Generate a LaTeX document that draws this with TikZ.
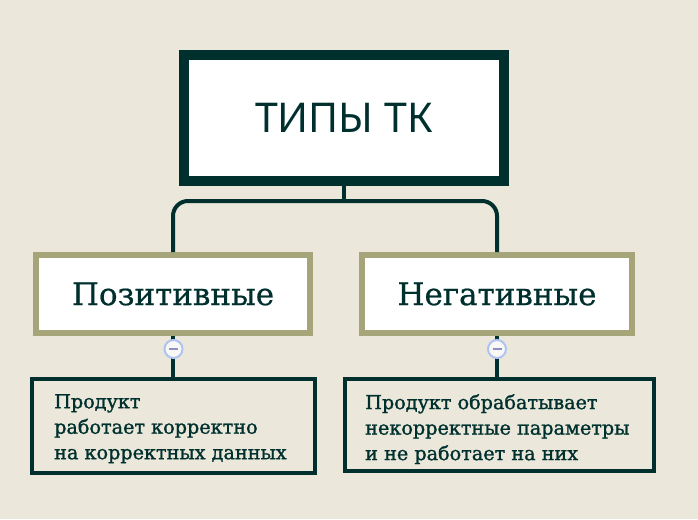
\documentclass[tikz,border=0pt]{standalone}
\usepackage{fontspec}
\setmainfont{DejaVu Serif}[FakeBold=0.6]
\newfontfamily\titlefont{Noto Sans}
\newfontfamily\notefont{DejaVu Serif}[FakeBold=1.3]
\definecolor{paper}{HTML}{EBE8DB}
\definecolor{ink}{HTML}{00302E}
\definecolor{olive}{HTML}{A6A57A}
\definecolor{foldring}{HTML}{AFC2F4}
\definecolor{folddash}{HTML}{8A90C8}
\tikzset{
  topbox/.style={draw=ink, line width=10pt, fill=white, minimum width=320pt,
    minimum height=126pt, font=\titlefont\fontsize{41}{46}\selectfont, text=ink},
  kindbox/.style={draw=olive, line width=6pt, fill=white, minimum height=78pt,
    font=\fontsize{31}{35}\selectfont, text=ink},
  detailbox/.style={draw=ink, line width=4pt, fill=paper},
  detailtext/.style={anchor=north west, align=left, inner sep=0pt, text=ink,
    font=\notefont\fontsize{19.2}{25.5}\selectfont},
  link/.style={draw=ink, line width=4pt},
  fold/.style={circle, draw=foldring, line width=2pt, fill=white!70!paper,
    minimum size=18pt, inner sep=0pt}
}
\begin{document}
\begin{tikzpicture}[x=1pt, y=-1pt]
  \fill[paper] (0,0) rectangle (698,519);
  \useasboundingbox (0,0) rectangle (698,519);
  % boxes
  \node[topbox] (types) at (344,118) {ТИПЫ ТК};
  \node[kindbox, minimum width=274pt] (pos) at (173,294) {Позитивные};
  \node[kindbox, minimum width=270pt] (neg) at (497,294) {Негативные};
  \node[detailbox, minimum width=283pt, minimum height=94pt] (posinfo) at (173.5,426) {};
  \node[detailbox, minimum width=309pt, minimum height=92pt] (neginfo) at (499.5,425) {};
  \coordinate (split) at (344,201);
  % links
  \begin{scope}[link]
    \draw (types.south) -- (split);
    \draw[rounded corners=15pt] (pos.north) |- (split) -| (neg.north);
    \draw (pos.south) -- (pos.south |- posinfo.north);
    \draw (neg.south) -- (neg.south |- neginfo.north);
  \end{scope}
  % fold markers
  \node[fold] (posfold) at (173.5,349) {};
  \node[fold] (negfold) at (497,349) {};
  \draw[folddash, line width=2pt] ([xshift=-4.5pt]posfold.center) -- ([xshift=4.5pt]posfold.center);
  \draw[folddash, line width=2pt] ([xshift=-4.5pt]negfold.center) -- ([xshift=4.5pt]negfold.center);
  % texts
  \node[detailtext] (postext) at ([xshift=24pt, yshift=-17pt]posinfo.north west)
    {Продукт\\работает корректно\\на корректных данных};
  \node[detailtext] (negtext) at ([xshift=22pt, yshift=-17pt]neginfo.north west)
    {Продукт обрабатывает\\некорректные параметры\\и не работает на них};
\end{tikzpicture}
\end{document}
